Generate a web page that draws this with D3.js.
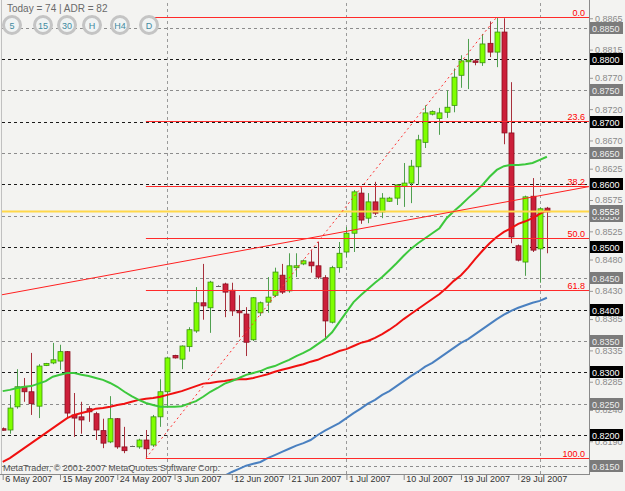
<!DOCTYPE html>
<html><head><meta charset="utf-8">
<script src="https://cdn.jsdelivr.net/npm/d3@7"></script>
<style>
html,body{margin:0;padding:0;background:#f3f3f1;}
svg{display:block;}
text{font-family:"Liberation Sans",Arial,sans-serif;}
</style></head><body>
<svg id="c" width="625" height="491"></svg>
<script>
// ---------- DATA ----------
const tickBars = [0, 8, 16, 24, 32, 40, 48, 56, 64, 72];
const tickLabels = ["6 May 2007","15 May 2007","24 May 2007","3 Jun 2007","12 Jun 2007","21 Jun 2007","1 Jul 2007","10 Jul 2007","19 Jul 2007","29 Jul 2007"];
const monthStarts = [23, 48, 75];

const opens = [0.8210,0.8208,0.8245,0.8277,0.8269,0.8246,0.8311,0.8315,0.8318,0.8333,
0.8232,0.8229,0.8242,0.8234,0.8207,0.8189,0.8226,0.8181,0.8182,0.8181,
0.8192,0.8184,0.8229,0.8269,0.8327,0.8321,0.8341,0.8366,0.8411,0.8403,
0.8438,0.8441,0.8431,0.8398,0.8393,0.8352,0.8395,0.8412,0.8423,0.8455,
0.8430,0.8467,0.8473,0.8476,0.8470,0.8451,0.8380,0.8467,0.8492,0.8522,
0.8586,0.8546,0.8572,0.8556,0.8573,0.8578,0.8597,0.8602,0.8628,0.8667,
0.8712,0.8705,0.8715,0.8726,0.8774,0.8797,0.8797,0.8794,0.8825,0.8811,
0.8843,0.8682,0.8502,0.8476,0.8581,0.8497,0.8562];
const highs = [0.8212,0.8264,0.8305,0.8291,0.8331,0.8313,0.8315,0.8347,0.8344,0.8334,
0.8267,0.8253,0.8246,0.8237,0.8226,0.8262,0.8227,0.8213,0.8183,0.8194,
0.8208,0.8232,0.8289,0.8325,0.8328,0.8343,0.8372,0.8436,0.8473,0.8446,
0.8439,0.8443,0.8443,0.8423,0.8404,0.8420,0.8413,0.8452,0.8467,0.8473,
0.8490,0.8490,0.8480,0.8495,0.8508,0.8455,0.8470,0.8508,0.8532,0.8591,
0.8594,0.8586,0.8604,0.8586,0.8580,0.8600,0.8634,0.8639,0.8679,0.8726,
0.8718,0.8722,0.8750,0.8785,0.8806,0.8832,0.8800,0.8840,0.8860,0.8867,
0.8865,0.8763,0.8504,0.8582,0.8610,0.8563,0.8564];
const lows = [0.8207,0.8202,0.8242,0.8253,0.8232,0.8227,0.8310,0.8313,0.8304,0.8227,
0.8197,0.8202,0.8221,0.8192,0.8179,0.8187,0.8178,0.8171,0.8181,0.8178,
0.8163,0.8181,0.8213,0.8245,0.8322,0.8305,0.8333,0.8363,0.8384,0.8363,
0.8437,0.8388,0.8390,0.8356,0.8326,0.8350,0.8390,0.8395,0.8420,0.8425,
0.8427,0.8452,0.8471,0.8459,0.8449,0.8352,0.8378,0.8459,0.8484,0.8492,
0.8537,0.8538,0.8551,0.8546,0.8572,0.8567,0.8564,0.8570,0.8599,0.8658,
0.8710,0.8679,0.8706,0.8715,0.8754,0.8752,0.8790,0.8789,0.8803,0.8787,
0.8664,0.8506,0.8477,0.8454,0.8492,0.8443,0.8490];
const closes = [0.8208,0.8243,0.8277,0.8269,0.8250,0.8310,0.8314,0.8320,0.8333,0.8235,
0.8227,0.8224,0.8237,0.8208,0.8187,0.8226,0.8181,0.8175,0.8182,0.8192,
0.8178,0.8229,0.8269,0.8323,0.8323,0.8342,0.8368,0.8411,0.8406,0.8444,
0.8438,0.8428,0.8398,0.8395,0.8348,0.8419,0.8411,0.8420,0.8460,0.8428,
0.8470,0.8470,0.8478,0.8470,0.8452,0.8382,0.8467,0.8490,0.8522,0.8588,
0.8543,0.8572,0.8554,0.8578,0.8578,0.8599,0.8602,0.8629,0.8671,0.8714,
0.8716,0.8714,0.8723,0.8771,0.8797,0.8798,0.8795,0.8824,0.8811,0.8843,
0.8682,0.8516,0.8479,0.8580,0.8495,0.8561,0.8556];

const maFast = [0.8270,0.8272,0.8275,0.8277,0.8278,0.8282,0.8286,0.8293,0.8296,0.8299,
0.8299,0.8296,0.8294,0.8291,0.8288,0.8283,0.8277,0.8269,0.8262,0.8256,
0.8251,0.8248,0.8245,0.8245,0.8245,0.8246,0.8250,0.8254,0.8261,0.8269,
0.8275,0.8282,0.8286,0.8291,0.8296,0.8299,0.8302,0.8307,0.8310,0.8315,
0.8320,0.8326,0.8331,0.8337,0.8345,0.8353,0.8364,0.8380,0.8396,0.8412,
0.8423,0.8433,0.8443,0.8452,0.8463,0.8474,0.8486,0.8497,0.8506,0.8514,
0.8522,0.8530,0.8546,0.8557,0.8567,0.8578,0.8588,0.8599,0.8612,0.8623,
0.8629,0.8631,0.8631,0.8632,0.8634,0.8639,0.8644];
const maMid = [0.8157,0.8163,0.8171,0.8179,0.8187,0.8195,0.8203,0.8211,0.8219,0.8227,
0.8232,0.8235,0.8238,0.8242,0.8243,0.8245,0.8248,0.8250,0.8253,0.8256,
0.8258,0.8259,0.8261,0.8264,0.8267,0.8270,0.8274,0.8278,0.8282,0.8283,
0.8285,0.8286,0.8288,0.8289,0.8289,0.8291,0.8294,0.8297,0.8301,0.8304,
0.8307,0.8310,0.8313,0.8317,0.8320,0.8325,0.8329,0.8334,0.8337,0.8342,
0.8347,0.8350,0.8355,0.8361,0.8368,0.8376,0.8385,0.8393,0.8401,0.8409,
0.8417,0.8425,0.8435,0.8446,0.8455,0.8467,0.8481,0.8494,0.8506,0.8516,
0.8524,0.8530,0.8537,0.8541,0.8546,0.8553,0.8559];
const maSlow = [null,null,null,null,null,null,null,null,null,null,
null,null,null,null,null,null,null,null,null,null,
null,null,null,null,null,null,null,null,null,null,
null,0.8135,0.8141,0.8146,0.8151,0.8154,0.8157,0.8163,0.8168,0.8173,
0.8178,0.8183,0.8187,0.8192,0.8200,0.8207,0.8213,0.8219,0.8227,0.8235,
0.8242,0.8250,0.8256,0.8264,0.8270,0.8278,0.8286,0.8294,0.8301,0.8309,
0.8315,0.8323,0.8331,0.8339,0.8347,0.8353,0.8361,0.8369,0.8377,0.8385,
0.8392,0.8398,0.8403,0.8407,0.8411,0.8414,0.8419];

const fibLevels = [0, 23.6, 38.2, 50, 61.8, 100];
const fibLabels = ["0.0","23.6","38.2","50.0","61.8","100.0"];
const fibLowBar = 20, fibLowPrice = 0.8163;
const fibHighBar = 69, fibHighPrice = 0.8867;
const trendBars = [0, 76];
const trendPrices = [0.8424, 0.8584];
const bidPrice = 0.8558;

const roundLevels = [0.8800,0.8700,0.8600,0.8500,0.8400,0.8300,0.8200];
const halfLevels = [0.8850,0.8750,0.8650,0.8550,0.8450,0.8350,0.8250,0.8150];
const scaleLabels = [0.8865,0.8815,0.8770,0.8720,0.8670,0.8625,0.8575,0.8525,0.8480,0.8430,0.8385,0.8335,0.8285,0.8240,0.8190];
const timeframes = ["5","15","30","H","H4","D"];
const tfX = [12, 43, 67, 92, 120, 149];

// ---------- DRAW ----------
const W = 625, H = 491;
const P = {l: 2, r: 589, t: 3, b: 474};
const x = d3.scaleLinear().domain([0, 76]).range([2.7, 546.9]);
const y = d3.scaleLinear().domain([0.85, 0.88]).range([247, 59]);
const svg = d3.select("#c");
svg.append("rect").attr("width", W).attr("height", H).attr("fill", "#f3f3f1");
svg.append("defs").append("clipPath").attr("id", "clip").append("rect")
  .attr("x", P.l).attr("y", P.t).attr("width", P.r - P.l).attr("height", P.b - P.t);
const g = svg.append("g").attr("clip-path", "url(#clip)");
const py = v => Math.round(y(v)) + 0.5;

// half and round grid levels
g.selectAll(".hl").data(halfLevels).join("line")
  .attr("x1", P.l).attr("x2", P.r).attr("y1", py).attr("y2", py)
  .attr("stroke", "#8c8c8c").attr("stroke-dasharray", "3,3");
g.selectAll(".rl").data(roundLevels).join("line")
  .attr("x1", P.l).attr("x2", P.r).attr("y1", py).attr("y2", py)
  .attr("stroke", "#1a1a1a").attr("stroke-dasharray", "3,3");
// period separators
g.selectAll(".ms").data(monthStarts).join("line")
  .attr("x1", d => Math.round(x(d)) + 0.5).attr("x2", d => Math.round(x(d)) + 0.5)
  .attr("y1", P.t).attr("y2", P.b)
  .attr("stroke", "#9a9a9a").attr("stroke-dasharray", "3,3");

// candles
const idx = d3.range(opens.length);
const bw = 5;
const cg = g.append("g");
idx.forEach(i => {
  const o = opens[i], c = closes[i], h = highs[i], l = lows[i];
  const bull = c > o, doji = Math.abs(c - o) < 0.00001;
  const cx = Math.round(x(i)) + 0.5;
  const wickCol = doji ? "#777" : (bull ? "#4f9f4f" : "#a8303c");
  cg.append("line").attr("x1", cx).attr("x2", cx).attr("y1", y(h)).attr("y2", y(l))
    .attr("stroke", wickCol).attr("stroke-width", 1);
  if (doji) {
    cg.append("line").attr("x1", cx - 2.5).attr("x2", cx + 2.5).attr("y1", py(o)).attr("y2", py(o))
      .attr("stroke", "#666");
  } else {
    const top = y(Math.max(o, c)), bot = y(Math.min(o, c));
    cg.append("rect").attr("x", cx - bw / 2).attr("y", top).attr("width", bw)
      .attr("height", Math.max(1.5, bot - top))
      .attr("fill", bull ? "#7fff00" : "#cc1f3a")
      .attr("stroke", bull ? "#3a8f10" : "#8a1020").attr("stroke-width", 0.8);
  }
});

// moving averages
const line = d3.line().defined(d => d[1] != null).x(d => x(d[0])).y(d => y(d[1]));
g.append("path").datum(idx.map(i => [i, maSlow[i]])).attr("d", line)
  .attr("fill", "none").attr("stroke", "#4a80c0").attr("stroke-width", 2);
g.append("path").datum(idx.map(i => [i, maMid[i]])).attr("d", line)
  .attr("fill", "none").attr("stroke", "#f01010").attr("stroke-width", 2);
g.append("path").datum(idx.map(i => [i, maFast[i]])).attr("d", line)
  .attr("fill", "none").attr("stroke", "#3cc83c").attr("stroke-width", 2);

// bid line
g.append("line").attr("x1", P.l).attr("x2", P.r).attr("y1", py(bidPrice)).attr("y2", py(bidPrice))
  .attr("stroke", "#ffd84a").attr("stroke-width", 2);

// trend line (extended to edges)
const slope = (trendPrices[1] - trendPrices[0]) / (trendBars[1] - trendBars[0]);
const bl = x.invert(P.l), br = x.invert(P.r);
g.append("line")
  .attr("x1", P.l).attr("y1", y(trendPrices[0] + slope * (bl - trendBars[0])))
  .attr("x2", P.r).attr("y2", y(trendPrices[0] + slope * (br - trendBars[0])))
  .attr("stroke", "#ff2020").attr("stroke-width", 1);

// fibonacci
const fibPrice = lv => fibHighPrice - (fibHighPrice - fibLowPrice) * lv / 100;
g.append("line").attr("x1", x(fibLowBar)).attr("y1", y(fibLowPrice))
  .attr("x2", x(fibHighBar)).attr("y2", y(fibHighPrice))
  .attr("stroke", "#ff3030").attr("stroke-dasharray", "2,3");
g.selectAll(".fib").data(fibLevels).join("line")
  .attr("x1", x(fibLowBar)).attr("x2", P.r)
  .attr("y1", d => py(fibPrice(d))).attr("y2", d => py(fibPrice(d)))
  .attr("stroke", "#ff2a2a").attr("stroke-width", 1);
g.selectAll(".fibt").data(fibLevels).join("text")
  .attr("x", 585).attr("y", d => py(fibPrice(d)) - 2)
  .attr("text-anchor", "end").attr("fill", "#ff0000").attr("font-size", 9)
  .text((d, i) => fibLabels[i]);

// frame
svg.append("line").attr("x1", P.r + 0.5).attr("x2", P.r + 0.5).attr("y1", 0).attr("y2", P.b + 1).attr("stroke", "#8a8a8a");
svg.append("line").attr("x1", 0).attr("x2", P.r + 1).attr("y1", P.b + 0.5).attr("y2", P.b + 0.5).attr("stroke", "#8a8a8a");
svg.append("line").attr("x1", P.l - 0.5).attr("x2", P.l - 0.5).attr("y1", 0).attr("y2", P.b).attr("stroke", "#c0c0c0");

// right axis plain labels
const ra = svg.append("g").attr("transform", `translate(${P.r + 1},0)`)
  .call(d3.axisRight(y).tickValues(scaleLabels).tickSize(3).tickPadding(2).tickFormat(d3.format(".4f")));
ra.select(".domain").remove();
ra.selectAll("line").attr("stroke", "#999");
ra.selectAll("text").attr("fill", "#8a8a8a").attr("font-size", 9).attr("font-family", "Liberation Sans, Arial, sans-serif");

// boxed labels
const boxes = svg.append("g");
function boxLabel(v, fill, txt, col) {
  const yy = Math.round(y(v));
  boxes.append("rect").attr("x", 590).attr("y", yy - 6).attr("width", 33).attr("height", 12).attr("fill", fill);
  boxes.append("text").attr("x", 592).attr("y", yy + 3.5).attr("fill", col).attr("font-size", 9).text(txt);
}
halfLevels.forEach(v => boxLabel(v, "#7b7b7b", d3.format(".4f")(v), "#eeeeee"));
roundLevels.forEach(v => boxLabel(v, "#000000", d3.format(".4f")(v), "#ffffff"));
boxLabel(bidPrice, "#7b7b7b", d3.format(".4f")(bidPrice), "#ffffff");

// bottom axis
const ba = svg.append("g").attr("transform", `translate(0,${P.b + 1})`)
  .call(d3.axisBottom(x).tickValues(tickBars).tickSize(5).tickFormat((d, i) => tickLabels[i]));
ba.select(".domain").remove();
ba.selectAll("line").attr("stroke", "#888");
ba.selectAll("text").attr("text-anchor", "start").attr("dx", 2).attr("dy", "-0.1em")
  .attr("fill", "#333").attr("font-size", 9).attr("font-family", "Liberation Sans, Arial, sans-serif");

// copyright
svg.append("text").attr("x", 3).attr("y", 471).attr("fill", "#555").attr("font-size", 9)
  .text("MetaTrader, © 2001-2007 MetaQuotes Software Corp.");

// header text
svg.append("text").attr("x", 7).attr("y", 12).attr("fill", "#6a6a6a").attr("font-size", 10)
  .text("Today = 74   |   ADR = 82");

// timeframe buttons
const tf = svg.append("g");
timeframes.forEach((t, i) => {
  tf.append("circle").attr("cx", tfX[i]).attr("cy", 25).attr("r", 8.5)
    .attr("fill", "#f0f3f3").attr("stroke", "#c4c4c4").attr("stroke-width", 3);
  tf.append("text").attr("x", tfX[i]).attr("y", 28.5).attr("text-anchor", "middle")
    .attr("fill", "#3f8aa0").attr("font-size", 9).text(t);
});
</script></body></html>
